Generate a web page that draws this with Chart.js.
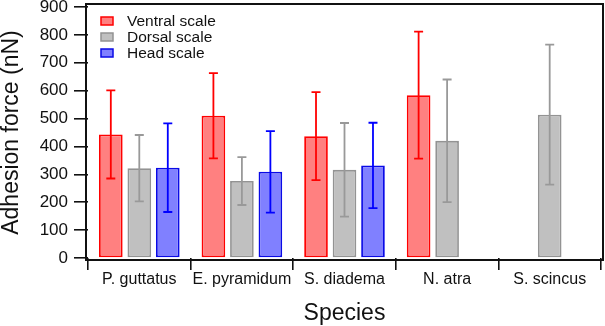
<!DOCTYPE html>
<html><head><meta charset="utf-8">
<script src="https://cdn.jsdelivr.net/npm/chart.js@4/dist/chart.umd.min.js"></script>
<style>html,body{margin:0;padding:0;background:#fff;} #wrap{width:605px;height:326px;position:relative;}</style>
</head><body><div id="wrap"><canvas id="c"></canvas></div>
<script>
// ---- data ----
const species = ['P. guttatus', 'E. pyramidum', 'S. diadema', 'N. atra', 'S. scincus'];
const seriesNames = ['Ventral scale', 'Dorsal scale', 'Head scale'];
const ventralMean = [443, 510, 437, 584, null];
const ventralSD   = [158, 153, 158, 228, null];
const dorsalMean  = [322, 276, 316, 420, 514];
const dorsalSD    = [119, 86, 168, 220, 251];
const headMean    = [324, 309, 332, null, null];
const headSD      = [159, 146, 153, null, null];
const yTickValues = [0, 100, 200, 300, 400, 500, 600, 700, 800, 900];

Chart.defaults.font.family = '"Liberation Sans", Arial, Helvetica, sans-serif';

const styles = [
  { bg: '#ff8080', border: '#ff0000', err: '#ff0000' },
  { bg: '#c0c0c0', border: '#939393', err: '#999999' },
  { bg: '#8080ff', border: '#0a0ae6', err: '#0000ff' }
];
const means = [ventralMean, dorsalMean, headMean];
const sds = [ventralSD, dorsalSD, headSD];

const datasets = seriesNames.map((name, i) => ({
  label: name,
  data: means[i],
  sd: sds[i],
  backgroundColor: styles[i].bg,
  borderColor: styles[i].border,
  errColor: styles[i].err,
  borderWidth: 1.8,
  borderSkipped: false,
  categoryPercentage: 0.833,
  barPercentage: 0.83
}));

const errorBars = {
  id: 'errorBars',
  afterDatasetsDraw(chart) {
    const ctx = chart.ctx, ys = chart.scales.y;
    chart.data.datasets.forEach((ds, i) => {
      const meta = chart.getDatasetMeta(i);
      ds.data.forEach((v, j) => {
        if (v == null || ds.sd[j] == null) return;
        const el = meta.data[j];
        const x = el.x;
        const yH = ys.getPixelForValue(v + ds.sd[j]);
        const yL = ys.getPixelForValue(v - ds.sd[j]);
        ctx.save();
        ctx.strokeStyle = ds.errColor;
        ctx.lineWidth = 1.8;
        ctx.beginPath();
        ctx.moveTo(x, yH); ctx.lineTo(x, yL);
        ctx.moveTo(x - 4.5, yH); ctx.lineTo(x + 4.5, yH);
        ctx.moveTo(x - 4.5, yL); ctx.lineTo(x + 4.5, yL);
        ctx.stroke();
        ctx.restore();
      });
    });
  }
};

const frame = {
  id: 'frame',
  afterDraw(chart) {
    const ctx = chart.ctx, ca = chart.chartArea;
    const l = ca.left - 2, r = ca.right + 2, t = ca.top - 3, b = ca.bottom + 2;
    ctx.save();
    ctx.strokeStyle = '#111';
    ctx.lineWidth = 2;
    ctx.beginPath();
    ctx.moveTo(l, t); ctx.lineTo(r, t); ctx.lineTo(r, b); ctx.lineTo(l, b); ctx.closePath();
    ctx.stroke();
    ctx.restore();
  }
};

const insideLegend = {
  id: 'insideLegend',
  afterDraw(chart) {
    const ctx = chart.ctx, ca = chart.chartArea;
    ctx.save();
    ctx.font = '15.5px "Liberation Sans", Arial, sans-serif';
    ctx.textBaseline = 'middle';
    ctx.textAlign = 'left';
    chart.data.datasets.forEach((ds, i) => {
      const cy = ca.top + 14 + 16 * i;
      const bx = ca.left + 13;
      ctx.fillStyle = ds.backgroundColor;
      ctx.fillRect(bx, cy - 4, 12, 8);
      ctx.strokeStyle = ds.borderColor;
      ctx.lineWidth = 1.5;
      ctx.strokeRect(bx, cy - 4, 12, 8);
      ctx.fillStyle = '#111';
      ctx.fillText(ds.label, ca.left + 39, cy + 0.5);
    });
    ctx.restore();
  }
};

new Chart(document.getElementById('c'), {
  type: 'bar',
  data: { labels: species, datasets },
  plugins: [errorBars, frame, insideLegend],
  options: {
    responsive: true,
    maintainAspectRatio: false,
    devicePixelRatio: 1,
    animation: false,
    layout: { padding: { top: 7, right: 4, bottom: 0, left: 0 } },
    plugins: { legend: { display: false }, tooltip: { enabled: false } },
    scales: {
      x: {
        offset: true,
        grid: { display: true, offset: true, drawOnChartArea: false, drawTicks: true, tickLength: 12, color: '#111', lineWidth: 1.6 },
        border: { display: false },
        ticks: { color: '#111', font: { size: 16 }, padding: 0, maxRotation: 0 },
        title: { display: true, text: 'Species', color: '#111', font: { size: 23, lineHeight: 1 }, padding: { top: 0, bottom: 1 } },
        afterFit(s) { s.height = 68; s.paddingLeft = 0; s.paddingRight = 0; }
      },
      y: {
        min: 0, max: 900,
        afterBuildTicks(s) { s.ticks = yTickValues.map(v => ({ value: v })); },
        grid: { drawOnChartArea: false, drawTicks: true, tickLength: 14, color: '#111', lineWidth: 1.6 },
        border: { display: false },
        ticks: { color: '#111', font: { size: 17 }, padding: 6 },
        title: { display: true, text: 'Adhesion force (nN)', color: '#111', font: { size: 23, lineHeight: 1 }, padding: 0 },
        afterFit(s) { s.width = 88; s.paddingTop = 0; s.paddingBottom = 0; }
      }
    }
  }
});
</script>
</body></html>
